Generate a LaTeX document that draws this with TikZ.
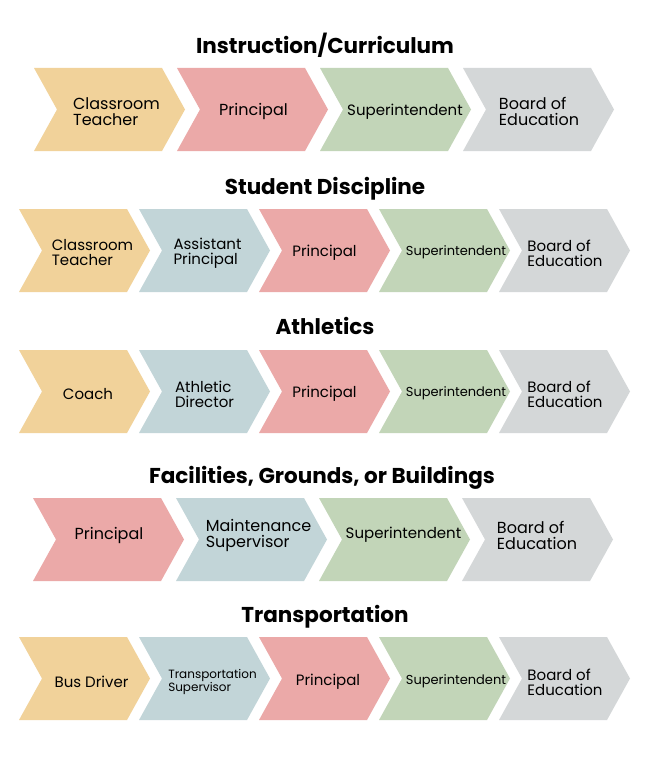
\documentclass[tikz,border=0pt]{standalone}
\usepackage{fontspec}
\setmainfont{Poppins}
\definecolor{teacherc}{HTML}{F1D29A}
\definecolor{principalc}{HTML}{EBA9A8}
\definecolor{superc}{HTML}{C2D5B8}
\definecolor{assistc}{HTML}{C2D5D8}
\definecolor{boardc}{HTML}{D4D7D8}
\begin{document}
\begin{tikzpicture}
    [x=1pt, y=-1pt,
    title/.style={font=\bfseries\fontsize{21.5}{24}\selectfont, inner sep=0pt, anchor=base},
    lbl/.style={align=left, inner sep=0pt, yshift=-2pt, font=\fontsize{16}{16}\selectfont},
    lblsmall/.style={align=left, inner sep=0pt, yshift=-2pt, font=\fontsize{15}{15}\selectfont},
    lbltiny/.style={align=left, inner sep=0pt, yshift=-2pt, font=\fontsize{13}{13}\selectfont},
    lblmini/.style={align=left, inner sep=0pt, yshift=-2pt, font=\fontsize{12}{11}\selectfont},
    pics/chevwide/.style={code={\fill[#1] (0,0) -- (128,0) -- (151,41.5) -- (128,83) -- (0,83) -- (23,41.5) -- cycle;}},
    pics/chevnarrow/.style={code={\fill[#1] (0,0) -- (108,0) -- (131,41.5) -- (108,83) -- (0,83) -- (23,41.5) -- cycle;}}]

    \useasboundingbox (0,0) rectangle (650,768);
    \fill[white] (0,0) rectangle (650,768);

    % Instruction/Curriculum
    \node[title] (instr) at (325,53) {Instruction/Curriculum};
    \pic at (34,68) {chevwide=teacherc};
    \pic at (177,68) {chevwide=principalc};
    \pic at (320,68) {chevwide=superc};
    \pic at (463,68) {chevwide=boardc};
    \node[lbl] (teacher1) at (116.5,109.5) {Classroom\\Teacher};
    \node[lbl] (principal1) at (253.5,109.5) {Principal};
    \node[lblsmall] (super1) at (405,109.5) {Superintendent};
    \node[lbl] (board1) at (539,109.5) {Board of\\Education};

    % Student Discipline
    \node[title] (disc) at (325,194) {Student Discipline};
    \pic at (19,209) {chevnarrow=teacherc};
    \pic at (139,209) {chevnarrow=assistc};
    \pic at (259,209) {chevnarrow=principalc};
    \pic at (379,209) {chevnarrow=superc};
    \pic at (499,209) {chevnarrow=boardc};
    \node[lblsmall] (teacher2) at (92.5,251) {Classroom\\Teacher};
    \node[lblsmall] (assist2) at (207.5,251) {Assistant\\Principal};
    \node[lblsmall] (principal2) at (324.5,251) {Principal};
    \node[lbltiny] (super2) at (456,250.5) {Superintendent};
    \node[lblsmall] (board2) at (565,251) {Board of\\Education};

    % Athletics
    \node[title] (ath) at (325,334) {Athletics};
    \pic at (19,350) {chevnarrow=teacherc};
    \pic at (139,350) {chevnarrow=assistc};
    \pic at (259,350) {chevnarrow=principalc};
    \pic at (379,350) {chevnarrow=superc};
    \pic at (499,350) {chevnarrow=boardc};
    \node[lblsmall] (coach3) at (88,392) {Coach};
    \node[lblsmall] (director3) at (204.5,392) {Athletic\\Director};
    \node[lblsmall] (principal3) at (324.5,392) {Principal};
    \node[lbltiny] (super3) at (456,391.5) {Superintendent};
    \node[lblsmall] (board3) at (565,392) {Board of\\Education};

    % Facilities, Grounds, or Buildings
    \node[title] (fac) at (322,483) {Facilities, Grounds, or Buildings};
    \pic at (33,498) {chevwide=principalc};
    \pic at (176,498) {chevwide=assistc};
    \pic at (319,498) {chevwide=superc};
    \pic at (462,498) {chevwide=boardc};
    \node[lbl] (principal4) at (109,533) {Principal};
    \node[lbl] (maint4) at (258.5,533) {Maintenance\\Supervisor};
    \node[lblsmall] (super4) at (403.5,533) {Superintendent};
    \node[lbl] (board4) at (537,533) {Board of\\Education};

    % Transportation
    \node[title] (trans) at (325,622) {Transportation};
    \pic at (19,637) {chevnarrow=teacherc};
    \pic at (139,637) {chevnarrow=assistc};
    \pic at (259,637) {chevnarrow=principalc};
    \pic at (379,637) {chevnarrow=superc};
    \pic at (499,637) {chevnarrow=boardc};
    \node[lblsmall] (driver5) at (91.5,680) {Bus Driver};
    \node[lblmini] (tsuper5) at (212.5,680) {Transportation\\Supervisor};
    \node[lblsmall] (principal5) at (328,680) {Principal};
    \node[lbltiny] (super5) at (456,679.5) {Superintendent};
    \node[lblsmall] (board5) at (565,680) {Board of\\Education};
\end{tikzpicture}
\end{document}
